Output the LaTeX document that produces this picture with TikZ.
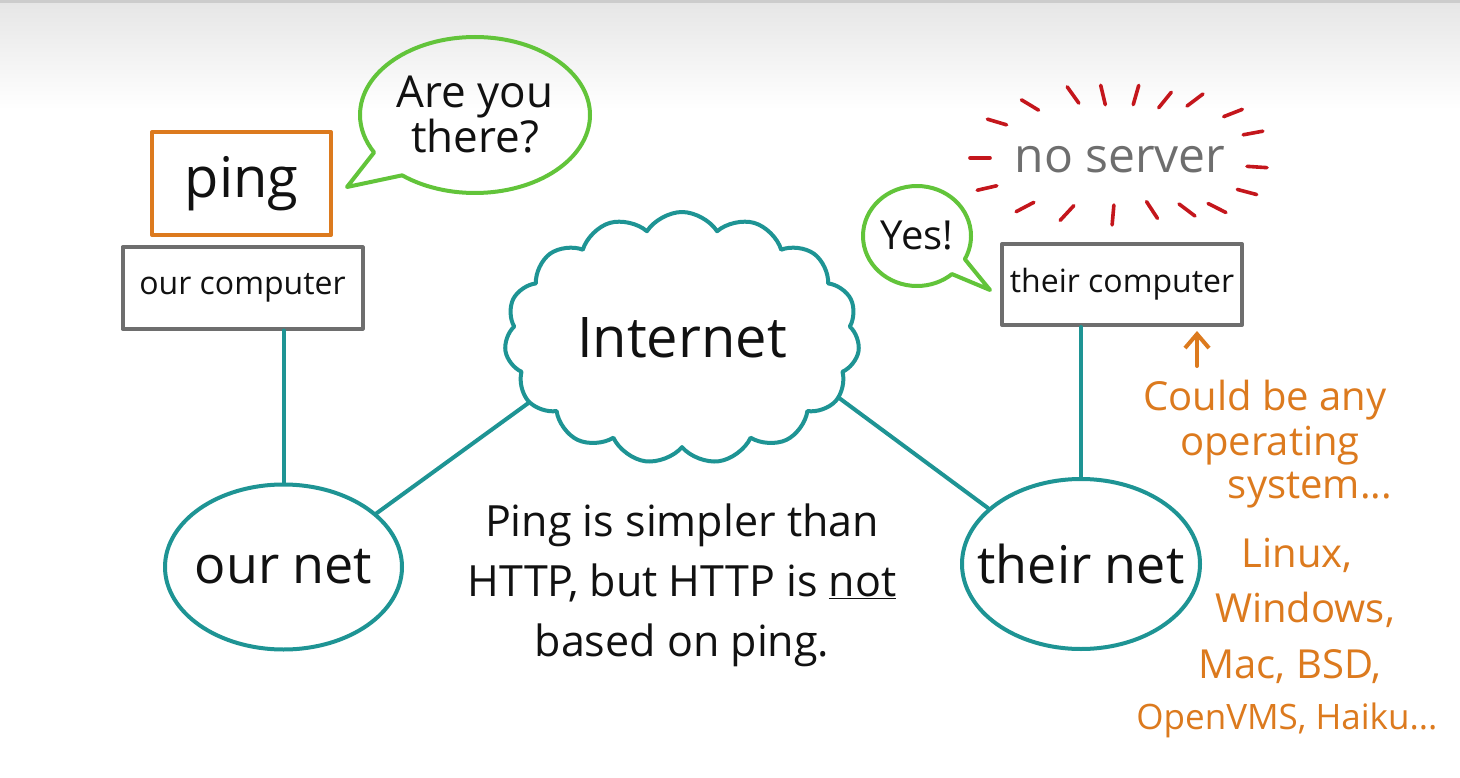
\documentclass[tikz,border=0pt]{standalone}
\usepackage{fontspec}
\setmainfont{Open Sans}
\usetikzlibrary{shapes.geometric,shapes.symbols,shapes.callouts,arrows.meta,calc}
\definecolor{tealc}{HTML}{1E9494}
\definecolor{bubg}{HTML}{62C43A}
\definecolor{orng}{HTML}{DC7A1E}
\definecolor{boxg}{HTML}{6E6E6E}
\definecolor{redd}{HTML}{C4161C}
\definecolor{ink}{HTML}{111111}
\newcommand{\fs}[2]{\fontsize{#1}{#2}\selectfont}
\tikzset{
  hand/.style={line width=4pt, line join=round, line cap=round},
  pingbox/.style={hand, draw=orng, minimum width=179, minimum height=103, inner sep=0pt, text=ink, font=\fs{56}{60}},
  compbox/.style={hand, draw=boxg, minimum width=240, minimum height=81, inner sep=0pt, text=ink, font=\fs{32}{36}},
  netell/.style={hand, draw=tealc, ellipse, inner xsep=-45pt, inner ysep=0pt, text=ink, font=\fs{52}{56}},
  link/.style={hand, draw=tealc},
  bubble/.style={hand, draw=bubg, ellipse callout, callout pointer arc=22, inner sep=0pt, text=ink, align=center},
  ostext/.style={text=orng, inner sep=0pt, font=\fs{40}{46}},
  ray/.style={line width=3.6pt, line cap=round, draw=redd},
}
\begin{document}
\begin{tikzpicture}[x=1pt,y=-1pt]
\useasboundingbox (0,0) rectangle (1460,778);
\fill[white] (0,0) rectangle (1460,778);
\shade[top color=black!10, bottom color=white] (0,0) rectangle (1460,110);
\fill[black!20] (0,0) rectangle (1460,3);

% our side
\node[pingbox] (ping) at (241.5,183.5) {ping};
\node[compbox] (ocomp) at (242.5,288) {our computer};
\node[netell, minimum width=237, minimum height=165] (onet) at (283.5,567) {our net};
\node[bubble, callout absolute pointer={(347,187)}, minimum width=230, minimum height=156, font=\fs{44}{42}] (q) at (475,115) {Are you\\there?};

% internet
\node[cloud, cloud puffs=15, cloud puff arc=115, cloud ignores aspect, draw=tealc, hand, minimum width=355, minimum height=252, inner sep=0pt, text=ink, font=\fs{56}{60}] (inet) at (682,338) {Internet};

% their side
\node[compbox] (tcomp) at (1122,284.5) {their computer};
\node[netell, minimum width=238, minimum height=170] (tnet) at (1081,564) {their net};
\node[bubble, callout absolute pointer={(990,290)}, minimum width=108, minimum height=100, font=\fs{40}{42}] (yes) at (917,236) {Yes!};
\node[text=boxg, inner sep=0pt, font=\fs{48}{50}] (nos) at (1120,160) {no server};

% connectors
\draw[link] (onet.north |- ocomp.south) -- (onet.north);
\draw[link] (tnet.north |- tcomp.south) -- (tnet.north);
\draw[link] (onet.30) -- (inet.203);
\draw[link] (tnet.149) -- (inet.339);

% rays around "no server"
\coordinate (c) at (1118,158);
\foreach \px/\py in {997/122,1030/105,1073/95,1103/95,1136/95,1165/100,1195/100,1233/113,1253/133,1257/167,1247/192,1217/208,1187/210,1152/210,1113/215,1067/213,1025/207,987/188,980/158}{
  \draw[ray] ($(\px,\py)!10pt!(c)$) -- ($(\px,\py)!-10pt!(c)$);
}

% center note
\node[align=center, text=ink, inner sep=0pt, font=\fs{43}{60}] (note) at (682,585) {Ping is simpler than\\HTTP, but HTTP is \underline{not}\\based on ping.};

% orange note
\node[ostext] (os1) at (1265,400) {Could be any};
\node[ostext] (os2) at (1270,446) {operating};
\node[ostext] (os3) at (1310,490) {system...};
\node[ostext] (os4) at (1297,555) {Linux,};
\node[ostext] (os5) at (1305,610) {Windows,};
\node[ostext] (os6) at (1290,667) {Mac, BSD,};
\node[ostext, font=\fs{35}{40}] (os7) at (1287,720) {OpenVMS, Haiku...};
\coordinate (arrs) at (1197,366);
\draw[hand, draw=orng, -{Straight Barb[length=14pt, width=24pt, line width=4pt]}] (arrs) -- ([yshift=-4pt]arrs |- tcomp.south);
\end{tikzpicture}
\end{document}
